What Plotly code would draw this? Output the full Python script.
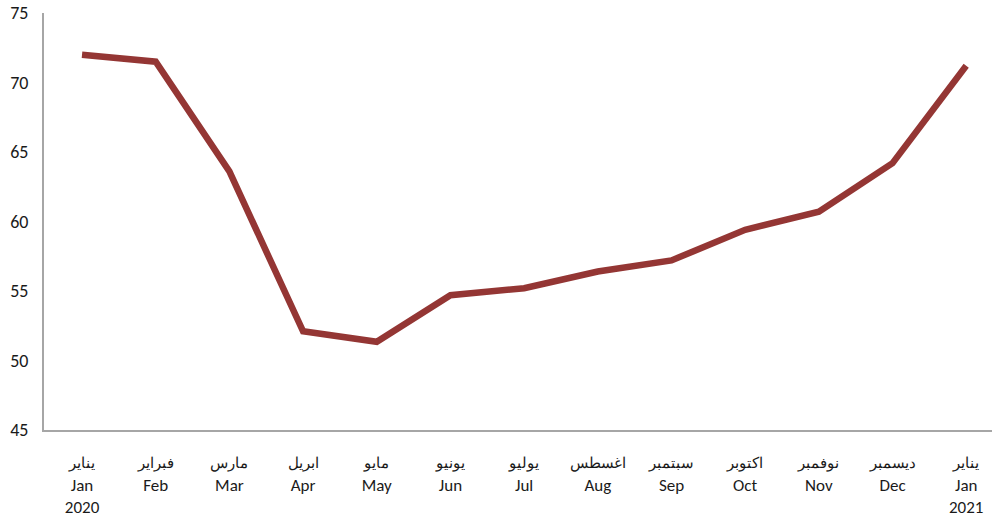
import plotly.graph_objects as go

arabic_months = ["يناير", "فبراير", "مارس", "ابريل", "مايو", "يونيو", "يوليو",
                 "اغسطس", "سبتمبر", "اكتوبر", "نوفمبر", "ديسمبر", "يناير"]
english_months = ["Jan", "Feb", "Mar", "Apr", "May", "Jun", "Jul",
                  "Aug", "Sep", "Oct", "Nov", "Dec", "Jan"]
years = ["2020", "", "", "", "", "", "", "", "", "", "", "", "2021"]
values = [72.0, 71.5, 63.6, 52.1, 51.35, 54.7, 55.2, 56.4, 57.2, 59.4, 60.7, 64.2, 71.2]
y_ticks = [45, 50, 55, 60, 65, 70, 75]

labels = []
for a, e, y in zip(arabic_months, english_months, years):
    lab = "<span style='font-size:15px'>" + a + "</span><br>" + e
    if y:
        lab += "<br>" + y
    labels.append(lab)

x = list(range(len(values)))

fig = go.Figure()
fig.add_trace(go.Scatter(
    x=x, y=values, mode="lines",
    line=dict(color="#943634", width=6.5),
    hoverinfo="skip",
))

font_family = "Liberation Sans Narrow, Carlito, Lato, Open Sans, sans-serif"

fig.update_layout(
    width=992, height=522,
    margin=dict(l=44, r=0, t=13, b=92),
    paper_bgcolor="white", plot_bgcolor="white",
    showlegend=False,
    font=dict(family=font_family, size=17, color="#1a1a1a"),
    xaxis=dict(
        range=[-0.516, 12.35],
        tickmode="array", tickvals=x, ticktext=labels,
        showgrid=False, zeroline=False, automargin=False,
        showline=True, linecolor="#A6A6A6", linewidth=2,
        ticks="", ticklabelstandoff=16,
        tickfont=dict(family=font_family, size=17, color="#1a1a1a"),
    ),
    yaxis=dict(
        range=[45, 75],
        tickmode="array", tickvals=y_ticks,
        showgrid=False, zeroline=False, automargin=False,
        showline=True, linecolor="#A6A6A6", linewidth=2,
        ticks="", ticklabelstandoff=10,
        tickfont=dict(family=font_family, size=18, color="#1a1a1a"),
    ),
)

fig.write_html(
    "out.html",
    config={"displayModeBar": False},
    post_script="document.body.style.margin='0';document.body.style.overflow='hidden';",
)
